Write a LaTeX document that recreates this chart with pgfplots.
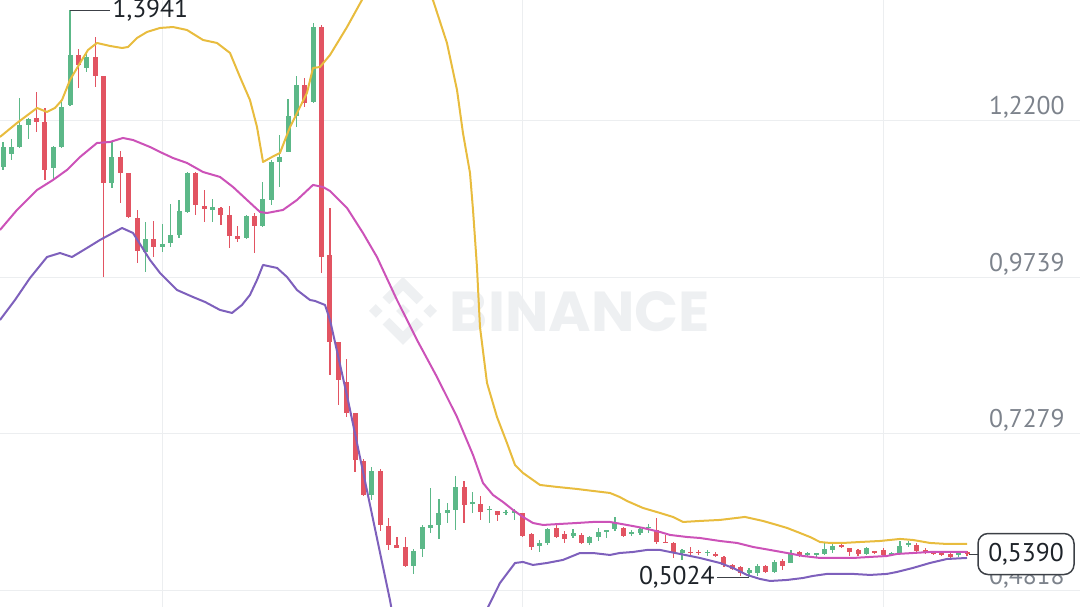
\documentclass[border=0pt]{standalone}
\usepackage{pgfplots}
\pgfplotsset{compat=1.18}
\usepackage{pgfplotstable}
\usepackage{graphicx}
\usepackage{fontspec}
\setmainfont{PT Sans}
\newfontfamily\wmfont{Poppins}
\definecolor{cgreen}{RGB}{92,184,136}
\definecolor{cred}{RGB}{226,84,98}
\definecolor{byellow}{RGB}{232,188,62}
\definecolor{bmag}{RGB}{204,82,184}
\definecolor{bpurp}{RGB}{126,96,188}
\definecolor{gridgray}{RGB}{236,238,240}
\definecolor{tickgray}{RGB}{125,131,140}
\definecolor{darktext}{RGB}{30,35,41}
\definecolor{boxgray}{RGB}{60,64,70}
\definecolor{wm}{RGB}{238,240,242}

\pgfplotstableread{
i o h l c
0 1.1477 1.1870 1.1430 1.1791
1 1.1681 1.1917 1.1587 1.1791
2 1.1791 1.2562 1.1780 1.2137
3 1.2137 1.2247 1.1917 1.2232
4 1.2247 1.2656 1.2027 1.2184
5 1.2184 1.2405 1.1272 1.1430
6 1.1461 1.1800 1.1272 1.1791
7 1.1791 1.2530 1.1780 1.2420
8 1.2452 1.3941 1.2440 1.3238
9 1.3238 1.3332 1.2719 1.3081
10 1.3034 1.3270 1.2971 1.3207
11 1.3207 1.3521 1.2735 1.2908
12 1.2908 1.2915 0.9747 1.1225
13 1.1225 1.1870 1.1147 1.1634
14 1.1634 1.1728 1.0911 1.1382
15 1.1382 1.1390 1.0675 1.0691
16 1.0675 1.0801 0.9967 1.0156
17 1.0140 1.0612 0.9825 1.0345
18 1.0345 1.0628 1.0061 1.0219
19 1.0219 1.0580 1.0140 1.0266
20 1.0282 1.0895 1.0219 1.0407
21 1.0407 1.0958 1.0360 1.0785
22 1.0769 1.1398 1.0753 1.1382
23 1.1382 1.1398 1.0722 1.0879
24 1.0863 1.1115 1.0612 1.0816
25 1.0801 1.0974 1.0612 1.0848
26 1.0832 1.0848 1.0565 1.0722
27 1.0722 1.0863 1.0203 1.0392
28 1.0392 1.0549 1.0297 1.0345
29 1.0360 1.0722 1.0345 1.0706
30 1.0706 1.0753 1.0124 1.0549
31 1.0549 1.1241 1.0533 1.0974
32 1.0958 1.1587 1.0879 1.1555
33 1.1555 1.1980 1.1162 1.1634
34 1.1713 1.2546 1.1705 1.2279
35 1.2279 1.2908 1.2106 1.2766
36 1.2766 1.2877 1.2420 1.2483
37 1.2499 1.3741 1.2483 1.3678
38 1.3678 1.3710 0.9810 1.0061
39 1.0093 1.0832 0.8206 0.8725
40 0.8725 0.8730 0.7734 0.8127
41 0.8096 0.8457 0.7545 0.7608
42 0.7608 0.7615 0.6680 0.6869
43 0.6853 0.6885 0.6303 0.6319
44 0.6319 0.6759 0.6240 0.6696
45 0.6696 0.6728 0.5753 0.5847
46 0.5831 0.5957 0.5454 0.5532
47 0.5532 0.5658 0.5480 0.5485
48 0.5501 0.5658 0.5187 0.5202
49 0.5202 0.5469 0.5077 0.5438
50 0.5469 0.5847 0.5344 0.5815
51 0.5800 0.6429 0.5721 0.5847
52 0.5847 0.6256 0.5627 0.6036
53 0.6036 0.6193 0.5878 0.6083
54 0.6083 0.6617 0.5768 0.6445
55 0.6445 0.6539 0.5878 0.6162
56 0.6177 0.6366 0.6036 0.6209
57 0.6177 0.6303 0.5926 0.6051
58 0.6083 0.6146 0.5878 0.6099
59 0.6067 0.6070 0.5910 0.6004
60 0.6036 0.6083 0.6004 0.6051
61 0.6036 0.6099 0.5926 0.6067
62 0.6036 0.6040 0.5658 0.5674
63 0.5705 0.5721 0.5454 0.5501
64 0.5517 0.5611 0.5422 0.5564
65 0.5564 0.5800 0.5532 0.5784
66 0.5800 0.5847 0.5642 0.5658
67 0.5705 0.5753 0.5564 0.5627
68 0.5674 0.5784 0.5642 0.5721
69 0.5690 0.5721 0.5548 0.5564
70 0.5564 0.5674 0.5532 0.5658
71 0.5658 0.5800 0.5595 0.5737
72 0.5737 0.5772 0.5642 0.5768
73 0.5784 0.5973 0.5753 0.5878
74 0.5800 0.5815 0.5658 0.5674
75 0.5705 0.5768 0.5674 0.5737
76 0.5721 0.5815 0.5690 0.5784
77 0.5800 0.5863 0.5721 0.5815
78 0.5768 0.5957 0.5548 0.5579
79 0.5579 0.5690 0.5560 0.5564
80 0.5564 0.5579 0.5328 0.5406
81 0.5406 0.5469 0.5297 0.5454
82 0.5422 0.5501 0.5375 0.5406
83 0.5422 0.5454 0.5375 0.5406
84 0.5406 0.5454 0.5359 0.5422
85 0.5391 0.5422 0.5344 0.5359
86 0.5344 0.5359 0.5187 0.5218
87 0.5218 0.5234 0.5139 0.5155
88 0.5187 0.5202 0.5045 0.5092
89 0.5092 0.5171 0.5024 0.5139
90 0.5092 0.5234 0.5045 0.5202
91 0.5202 0.5218 0.5092 0.5108
92 0.5108 0.5297 0.5092 0.5265
93 0.5281 0.5312 0.5139 0.5202
94 0.5249 0.5454 0.5245 0.5406
95 0.5422 0.5438 0.5344 0.5359
96 0.5375 0.5422 0.5344 0.5406
97 0.5375 0.5410 0.5344 0.5406
98 0.5391 0.5564 0.5375 0.5469
99 0.5454 0.5564 0.5406 0.5517
100 0.5532 0.5564 0.5485 0.5501
101 0.5485 0.5490 0.5359 0.5422
102 0.5454 0.5469 0.5359 0.5391
103 0.5391 0.5501 0.5375 0.5485
104 0.5438 0.5440 0.5391 0.5406
105 0.5454 0.5485 0.5359 0.5375
106 0.5375 0.5422 0.5359 0.5406
107 0.5406 0.5595 0.5400 0.5517
108 0.5532 0.5595 0.5501 0.5564
109 0.5532 0.5564 0.5406 0.5438
110 0.5454 0.5485 0.5391 0.5406
111 0.5422 0.5438 0.5375 0.5391
112 0.5406 0.5422 0.5359 0.5375
113 0.5391 0.5406 0.5328 0.5344
114 0.5375 0.5438 0.5344 0.5406
115 0.5420 0.5430 0.5360 0.5390
}\candles

\pgfplotstableread{
x y
-0.36 1.1949
1.67 1.2169
4.06 1.2405
5.25 1.2342
6.20 1.2405
7.04 1.2530
7.99 1.2845
9.19 1.3112
10.14 1.3317
11.21 1.3427
12.76 1.3380
14.20 1.3348
14.91 1.3364
15.98 1.3505
17.18 1.3600
18.73 1.3663
20.28 1.3678
21.95 1.3631
23.86 1.3474
25.53 1.3427
27.08 1.3270
28.27 1.2892
29.46 1.2530
30.30 1.2106
31.02 1.1555
32.09 1.1634
33.04 1.1697
34.24 1.2106
35.43 1.2420
36.26 1.2640
36.98 1.3034
37.81 1.3049
39.01 1.3238
41.04 1.3678
42.82 1.4103
44.38 1.4418
46.76 1.4653
49.15 1.4496
51.29 1.4103
52.96 1.3427
54.16 1.2688
54.87 1.2011
55.71 1.1382
56.07 1.0801
56.54 0.9904
56.90 0.8961
57.74 0.8080
58.93 0.7545
60.12 0.7136
61.08 0.6790
62.03 0.6665
64.06 0.6476
66.09 0.6445
68.47 0.6413
70.38 0.6382
72.41 0.6350
73.57 0.6287
74.44 0.6224
76.35 0.6114
78.37 0.6036
79.92 0.5973
81.12 0.5894
83.14 0.5910
85.53 0.5926
88.51 0.5973
90.66 0.5910
92.33 0.5847
93.53 0.5800
95.07 0.5721
96.27 0.5658
97.46 0.5579
98.65 0.5564
100.20 0.5564
102.23 0.5579
104.62 0.5595
107.00 0.5627
108.55 0.5611
110.58 0.5564
112.61 0.5548
115.00 0.5548
}\bbupper

\pgfplotstableread{
x y
-0.36 1.0486
1.67 1.0801
4.06 1.1115
5.96 1.1272
7.63 1.1430
9.19 1.1634
11.21 1.1854
12.76 1.1870
14.31 1.1933
15.51 1.1901
17.54 1.1791
18.73 1.1713
20.28 1.1618
21.95 1.1540
23.86 1.1398
25.89 1.1320
27.44 1.1162
29.11 1.0958
30.66 1.0769
31.49 1.0753
33.40 1.0801
35.07 1.0958
36.98 1.1194
38.17 1.1162
39.01 1.1099
41.04 1.0832
42.94 1.0439
44.61 1.0061
47.00 0.9385
49.39 0.8756
51.77 0.8174
54.16 0.7545
56.07 0.6948
57.26 0.6507
58.45 0.6319
59.64 0.6209
60.84 0.6083
62.03 0.5973
63.22 0.5878
64.42 0.5847
66.44 0.5863
68.47 0.5878
70.38 0.5894
72.41 0.5894
74.44 0.5847
76.35 0.5800
78.37 0.5737
79.57 0.5690
81.59 0.5658
83.14 0.5642
85.53 0.5595
87.56 0.5564
89.47 0.5501
91.50 0.5454
93.53 0.5406
95.43 0.5359
97.46 0.5328
99.49 0.5328
101.40 0.5328
103.42 0.5344
105.45 0.5359
106.64 0.5391
108.55 0.5406
110.58 0.5422
112.61 0.5422
115.00 0.5422
}\bbmid

\pgfplotstableread{
x y
-0.36 0.9071
1.43 0.9385
3.22 0.9731
5.25 1.0061
6.80 1.0124
8.23 1.0061
10.02 1.0203
11.57 1.0329
14.20 1.0517
15.51 1.0439
17.54 1.0014
18.73 0.9810
20.76 0.9542
22.66 0.9432
24.10 0.9354
25.89 0.9228
27.32 0.9181
28.51 0.9307
29.46 0.9464
30.30 0.9700
31.02 0.9936
32.69 0.9889
33.88 0.9747
35.07 0.9542
36.62 0.9385
37.22 0.9370
38.41 0.9307
39.01 0.9071
41.15 0.7813
43.18 0.6539
46.16 0.4667
47.36 0.3803
49.74 0.2780
52.13 0.2151
53.92 0.2309
55.71 0.2859
56.90 0.3881
57.86 0.4557
59.29 0.4935
61.08 0.5249
62.03 0.5265
63.22 0.5218
64.89 0.5249
66.80 0.5297
68.83 0.5406
70.38 0.5406
72.41 0.5375
73.57 0.5406
75.15 0.5422
76.82 0.5454
78.37 0.5454
79.57 0.5422
80.76 0.5391
83.14 0.5328
85.53 0.5249
87.08 0.5171
88.75 0.5061
90.30 0.4998
91.50 0.4966
93.53 0.4982
95.43 0.5013
96.62 0.5045
98.29 0.5077
101.40 0.5077
103.42 0.5061
105.45 0.5077
106.64 0.5108
108.55 0.5171
110.58 0.5249
112.61 0.5312
115.00 0.5328
}\bblow

\begin{document}
\begin{tikzpicture}
% watermark
\begin{scope}[shift={(201.5pt,148pt)}, x=34pt, y=34pt]
  \fill[wm] (0,0.5) -- (0.3,0.2) -- (0.2,0.1) -- (0,0.3) -- (-0.2,0.1) -- (-0.3,0.2) -- cycle;
  \fill[wm] (0,-0.5) -- (0.3,-0.2) -- (0.2,-0.1) -- (0,-0.3) -- (-0.2,-0.1) -- (-0.3,-0.2) -- cycle;
  \fill[wm] (0,0.1) -- (0.1,0) -- (0,-0.1) -- (-0.1,0) -- cycle;
  \fill[wm] (-0.5,0) -- (-0.4,0.1) -- (-0.3,0) -- (-0.4,-0.1) -- cycle;
  \fill[wm] (0.5,0) -- (0.4,0.1) -- (0.3,0) -- (0.4,-0.1) -- cycle;
\end{scope}
\node[text=wm, inner sep=0pt] at (290pt,147.5pt) {\resizebox{130pt}{20pt}{\wmfont\bfseries BINANCE}};

\begin{axis}[
  scale only axis, width=540pt, height=303.5pt,
  xmin=-0.358, xmax=128.48, ymin=0.4557, ymax=1.4103,
  axis line style={draw=none},
  tick style={draw=none}, major tick length=0pt,
  xtick={19,62,105}, xticklabels={},
  ytick={0.4818,0.7279,0.9739,1.22},
  yticklabels={{0,4818},{0,7279},{0,9739},{1,2200}},
  yticklabel pos=right,
  yticklabel style={anchor=south east, inner sep=0pt, xshift=-7.5pt, yshift=1pt,
    font=\fontsize{12.8}{14}\selectfont, text=tickgray},
  grid=major, major grid style={draw=gridgray, line width=0.5pt},
]
% wicks
\addplot[draw=none, mark=none, forget plot,
  error bars/.cd, y dir=both, y explicit, error mark=none,
  error bar style={line width=0.6pt, draw=cgreen}]
  table[x=i, y expr={\thisrow{c}>=\thisrow{o} ? (\thisrow{h}+\thisrow{l})/2 : nan},
        y error expr={(\thisrow{h}-\thisrow{l})/2}] {\candles};
\addplot[draw=none, mark=none, forget plot,
  error bars/.cd, y dir=both, y explicit, error mark=none,
  error bar style={line width=0.6pt, draw=cred}]
  table[x=i, y expr={\thisrow{c}<\thisrow{o} ? (\thisrow{h}+\thisrow{l})/2 : nan},
        y error expr={(\thisrow{h}-\thisrow{l})/2}] {\candles};
% bodies
\addplot[draw=none, mark=none, forget plot,
  error bars/.cd, y dir=both, y explicit, error mark=none,
  error bar style={line width=2.5pt, draw=cgreen}]
  table[x=i, y expr={\thisrow{c}>=\thisrow{o} ? (\thisrow{o}+\thisrow{c})/2 : nan},
        y error expr={max(abs(\thisrow{c}-\thisrow{o})/2,0.0008)}] {\candles};
\addplot[draw=none, mark=none, forget plot,
  error bars/.cd, y dir=both, y explicit, error mark=none,
  error bar style={line width=2.5pt, draw=cred}]
  table[x=i, y expr={\thisrow{c}<\thisrow{o} ? (\thisrow{o}+\thisrow{c})/2 : nan},
        y error expr={max(abs(\thisrow{c}-\thisrow{o})/2,0.0008)}] {\candles};
% Bollinger bands
\addplot[byellow, line width=1pt, line join=round] table[x=x,y=y] {\bbupper};
\addplot[bmag, line width=1pt, line join=round] table[x=x,y=y] {\bbmid};
\addplot[bpurp, line width=1pt, line join=round] table[x=x,y=y] {\bblow};
% annotations
\draw[boxgray, line width=0.5pt] (axis cs:8,1.3941) -- ++(20pt,0pt)
  node[anchor=west, inner sep=1pt, text=darktext, font=\fontsize{12.8}{14}\selectfont] {1,3941};
\draw[boxgray, line width=0.5pt] (axis cs:89,0.5024) -- ++(-16pt,0pt)
  node[anchor=east, inner sep=1pt, text=darktext, font=\fontsize{12.8}{14}\selectfont] {0,5024};
\coordinate (lastp) at (axis cs:115.2,0.5390);
\end{axis}
\coordinate (bl) at (489pt,0);
\coordinate (bc) at (513pt,0);
\draw[boxgray, line width=0.5pt] (lastp) -- (lastp -| bl);
\node[draw=boxgray, fill=white, line width=0.75pt, rounded corners=5pt,
  minimum width=48pt, minimum height=20.5pt, inner sep=0pt,
  font=\fontsize{12.8}{14}\selectfont, text=darktext] at (lastp -| bc) {0,5390};
\pgfresetboundingbox
\path[use as bounding box] (current axis.south west) rectangle (current axis.north east);
\end{tikzpicture}
\end{document}
